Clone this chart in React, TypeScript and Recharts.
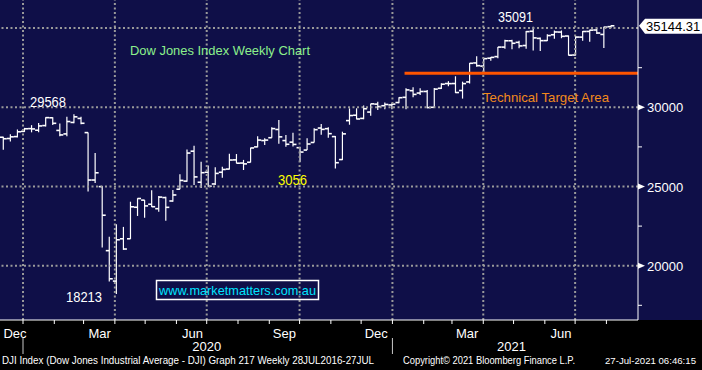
import { ComposedChart, Bar, XAxis, YAxis, ReferenceLine } from 'recharts'

// weekly bars, week ending (Friday)
const weeks = [
  '2019-12-06', '2019-12-13', '2019-12-20', '2019-12-27',
  '2020-01-03', '2020-01-10', '2020-01-17', '2020-01-24', '2020-01-31',
  '2020-02-07', '2020-02-14', '2020-02-21', '2020-02-28',
  '2020-03-06', '2020-03-13', '2020-03-20', '2020-03-27',
  '2020-04-03', '2020-04-10', '2020-04-17', '2020-04-24',
  '2020-05-01', '2020-05-08', '2020-05-15', '2020-05-22', '2020-05-29',
  '2020-06-05', '2020-06-12', '2020-06-19', '2020-06-26',
  '2020-07-03', '2020-07-10', '2020-07-17', '2020-07-24', '2020-07-31',
  '2020-08-07', '2020-08-14', '2020-08-21', '2020-08-28',
  '2020-09-04', '2020-09-11', '2020-09-18', '2020-09-25',
  '2020-10-02', '2020-10-09', '2020-10-16', '2020-10-23', '2020-10-30',
  '2020-11-06', '2020-11-13', '2020-11-20', '2020-11-27',
  '2020-12-04', '2020-12-11', '2020-12-18', '2020-12-25',
  '2021-01-01', '2021-01-08', '2021-01-15', '2021-01-22', '2021-01-29',
  '2021-02-05', '2021-02-12', '2021-02-19', '2021-02-26',
  '2021-03-05', '2021-03-12', '2021-03-19', '2021-03-26',
  '2021-04-02', '2021-04-09', '2021-04-16', '2021-04-23', '2021-04-30',
  '2021-05-07', '2021-05-14', '2021-05-21', '2021-05-28',
  '2021-06-04', '2021-06-11', '2021-06-18', '2021-06-25',
  '2021-07-02', '2021-07-09', '2021-07-16', '2021-07-23', '2021-07-30',
]

const opens = [
  28109, 28030, 28150, 28480, 28654, 28553, 28846, 29338, 28540, 28320, 29045, 29298, 28402,
  25409, 24992, 20950, 19028, 21700, 21700, 23690, 24140, 23880, 23600, 24300, 24085, 24830,
  25340, 27230, 25270, 25900, 25160, 25900, 26100, 26680, 26480, 26530, 27500, 27900, 28080,
  28600, 27900, 27800, 27450, 27300, 27780, 28690, 28650, 28150, 26700, 29160, 29500, 29300,
  29700, 30200, 30100, 30150, 30300, 30630, 31050, 30900, 31000, 30000, 31200, 31500, 31500,
  31060, 31600, 32800, 32600, 33100, 33200, 33800, 34200, 34100, 33900, 34800, 34350, 34210,
  34580, 34750, 34500, 33300, 34430, 34790, 34880, 34600, 35090,
]
const highs = [
  28133, 28300, 28600, 28701, 28873, 29009, 29374, 29373, 28980, 29409, 29568, 29406, 28402,
  27120, 25030, 21830, 22610, 22450, 24040, 24260, 24150, 24770, 24400, 24360, 24780, 25780,
  27340, 27580, 26560, 26320, 26210, 26250, 27070, 27050, 26680, 27450, 28180, 28040, 28740,
  29200, 28250, 28400, 27510, 28040, 28680, 28950, 28740, 28190, 28460, 29934, 29937, 30116,
  30220, 30350, 30300, 30250, 30640, 31200, 31270, 31200, 31100, 31220, 31520, 31650, 31960,
  31620, 32800, 33230, 33090, 33170, 33810, 34260, 34260, 34200, 34811, 35091, 34400, 34610,
  34850, 34850, 34530, 34500, 34810, 34890, 35020, 35080, 35171,
]
const lows = [
  27325, 27836, 28100, 28449, 28419, 28418, 28791, 28890, 28170, 28169, 28994, 28932, 24681,
  25226, 21154, 19000, 18213, 21000, 21690, 23140, 23030, 23700, 23400, 22840, 24040, 24820,
  25300, 25100, 24900, 24980, 25100, 25560, 26080, 26460, 26040, 26520, 27480, 27620, 28080,
  27700, 27510, 27520, 26540, 27300, 27770, 28260, 28080, 26140, 26670, 28900, 29240, 29240,
  29460, 29830, 29870, 29880, 30250, 29880, 30630, 30780, 29940, 29950, 31160, 31330, 30900,
  30550, 31500, 32560, 32200, 32940, 33100, 33700, 33660, 33730, 33700, 33580, 33550, 34180,
  34320, 34360, 33270, 33270, 34200, 34140, 34630, 33741, 34990,
]
const closes = [
  28015, 28135, 28455, 28645, 28634, 28823, 29348, 28990, 28256, 29102, 29398, 28992, 25409,
  25865, 23186, 19174, 21637, 21053, 23719, 24242, 23775, 23724, 24331, 23685, 24465, 25383,
  27111, 25606, 25871, 25016, 25827, 26075, 26672, 26470, 26428, 27433, 27931, 27930, 28654,
  28133, 27666, 27657, 27174, 27683, 28587, 28606, 28336, 26502, 28323, 29480, 29263, 29910,
  30218, 30046, 30179, 30200, 30606, 31098, 30814, 30997, 29983, 31148, 31458, 31494, 30932,
  31496, 32779, 32628, 33073, 33153, 33801, 34200, 34043, 33875, 34778, 34382, 34208, 34529,
  34756, 34480, 33290, 34433, 34786, 34870, 34688, 35061, 35144.31,
]

const quarterStarts = ['2020-01-01', '2020-04-01', '2020-07-01', '2020-10-01', '2021-01-01', '2021-04-01', '2021-07-01']
const monthStarts = [
  '2020-01-01', '2020-02-01', '2020-03-01', '2020-04-01', '2020-05-01', '2020-06-01',
  '2020-07-01', '2020-08-01', '2020-09-01', '2020-10-01', '2020-11-01', '2020-12-01',
  '2021-01-01', '2021-02-01', '2021-03-01', '2021-04-01', '2021-05-01', '2021-06-01',
  '2021-07-01', '2021-08-01',
]
const monthLabels = ['Dec', 'Mar', 'Jun', 'Sep', 'Dec', 'Mar', 'Jun']
const monthLabelDates = ['2019-12-24', '2020-03-17', '2020-06-17', '2020-09-16', '2020-12-16', '2021-03-16', '2021-06-17']
const yearLabels = ['2020', '2021']
const yearLabelDates = ['2020-07-01', '2021-04-29']
const yearBreaks = ['2020-01-01', '2021-01-01']

const gridValues = [20000, 25000, 30000, 35000]
const labelValues = [20000, 25000, 30000]
const minorValues = [17500, 22500, 27500, 32500]
const TARGET = 32150
const TARGET_FROM = '2021-01-13'

const NAVY = '#0f0f48'
const FONT = '"Liberation Sans", Arial, sans-serif'
const W = 702
const H = 370
const PLOT_BOTTOM = 320
const AXIS_X = 638
const X_MIN = -22.8
const X_MAX = 609.3
const Y_MIN = 16572
const Y_MAX = 36774
// Bloomberg draws each weekly bar a few days past its Friday
const BAR_SHIFT = 6

const dayNum = (s: string) => (Date.parse(s) - Date.parse('2020-01-01')) / 86400000

const rows = weeks.map((w, i) => ({
  week: w,
  t: dayNum(w) + BAR_SHIFT,
  open: opens[i],
  high: highs[i],
  low: lows[i],
  close: closes[i],
  range: [lows[i], highs[i]],
}))

const lastClose = closes[closes.length - 1]

type Spec = { t: number; kind: 'month' | 'label' | 'year' | 'break'; text?: string }
const xSpecs: Spec[] = [
  ...monthStarts.map((d) => ({ t: dayNum(d), kind: 'month' as const })),
  ...monthLabelDates.map((d, i) => ({ t: dayNum(d), kind: 'label' as const, text: monthLabels[i] })),
  ...yearLabelDates.map((d, i) => ({ t: dayNum(d), kind: 'year' as const, text: yearLabels[i] })),
  ...yearBreaks.map((d) => ({ t: dayNum(d), kind: 'break' as const })),
]
const xTicks = Array.from(new Set(xSpecs.map((s) => s.t))).sort((a, b) => a - b)

function XTick(props: any) {
  const { x, payload } = props
  const items = xSpecs.filter((s) => s.t === payload.value)
  return (
    <g>
      {items.map((s, i) => {
        if (s.kind === 'month')
          return <line key={i} x1={x} x2={x} y1={PLOT_BOTTOM} y2={PLOT_BOTTOM + 4} stroke="#fff" />
        if (s.kind === 'break')
          return <line key={i} x1={x} x2={x} y1={338} y2={354} stroke="#c8c8c8" />
        return (
          <text key={i} x={x} y={s.kind === 'label' ? 338 : 351} textAnchor="middle"
            fill="#fff" fontSize={13} fontFamily={FONT}>
            {s.text}
          </text>
        )
      })}
    </g>
  )
}

function YTick(props: any) {
  const { y, payload } = props
  const v = payload.value
  if (v === lastClose) {
    return (
      <g>
        <polygon points={`${AXIS_X + 1},${y} ${AXIS_X + 7},${y - 7} ${W},${y - 7} ${W},${y + 8} ${AXIS_X + 7},${y + 8}`}
          fill="#fff" />
        <text x={AXIS_X + 8} y={y + 5} fill="#000" fontSize={13} fontFamily={FONT}>{v.toFixed(2)}</text>
      </g>
    )
  }
  if (labelValues.includes(v)) {
    return (
      <g>
        <polygon points={`${AXIS_X},${y - 3} ${AXIS_X + 7},${y} ${AXIS_X},${y + 3}`} fill="#fff" />
        <text x={AXIS_X + 9} y={y + 5} fill="#fff" fontSize={13} fontFamily={FONT}>{v}</text>
      </g>
    )
  }
  return <line x1={AXIS_X} x2={AXIS_X + 4} y1={y} y2={y} stroke="#fff" />
}

function OhlcBar(props: any) {
  const { x, y, width, height, payload } = props
  if (x == null || y == null || !payload) return null
  const cx = x + width / 2
  const top = Math.min(y, y + height)
  const h = Math.abs(height)
  const span = payload.high - payload.low || 1
  const yo = top + ((payload.high - payload.open) / span) * h
  const yc = top + ((payload.high - payload.close) / span) * h
  return (
    <g stroke="#fff">
      <line x1={cx} x2={cx} y1={top} y2={top + h} strokeWidth={1.2} />
      <line x1={cx - 3.5} x2={cx} y1={yo} y2={yo} strokeWidth={1.6} />
      <line x1={cx} x2={cx + 3.5} y1={yc} y2={yc} strokeWidth={1.6} />
    </g>
  )
}

const dotted = { stroke: '#9a9a9a', strokeWidth: 2, strokeDasharray: '2 2.5' }

export default function App() {
  return (
    <div
      style={{
        position: 'absolute', left: 0, top: 0, width: W, height: H,
        background: `linear-gradient(to bottom, ${NAVY} ${PLOT_BOTTOM}px, #000 ${PLOT_BOTTOM}px)`,
      }}
    >
      <ComposedChart width={W} height={H} data={rows} margin={{ top: 0, right: 0, bottom: 0, left: 0 }}>
        <XAxis type="number" dataKey="t" domain={[X_MIN, X_MAX]} allowDataOverflow
          ticks={xTicks} interval={0} height={H - PLOT_BOTTOM} tick={<XTick />}
          tickLine={false} axisLine={{ stroke: '#fff' }} />
        <YAxis orientation="right" width={W - AXIS_X} domain={[Y_MIN, Y_MAX]} allowDataOverflow
          ticks={[...minorValues, ...labelValues, lastClose]} interval={0} tick={<YTick />}
          tickLine={false} axisLine={{ stroke: '#fff' }} />
        {gridValues.map((v) => (
          <ReferenceLine key={'h' + v} y={v} {...dotted} />
        ))}
        {quarterStarts.map((d) => (
          <ReferenceLine key={'v' + d} x={dayNum(d)} {...dotted} />
        ))}
        <ReferenceLine
          segment={[{ x: dayNum(TARGET_FROM), y: TARGET }, { x: X_MAX, y: TARGET }]}
          stroke="#ff5500" strokeWidth={3} />
        <Bar dataKey="range" barSize={6} shape={<OhlcBar />} isAnimationActive={false} />
      </ComposedChart>
      <svg width={W} height={H} style={{ position: 'absolute', left: 0, top: 0, pointerEvents: 'none' }}
        fontFamily={FONT}>
        <text x={130} y={55} fill="#8cf08c" fontSize={13} textLength={180} lengthAdjust="spacingAndGlyphs">
          Dow Jones Index Weekly Chart
        </text>
        <text x={30} y={107} fill="#fff" fontSize={14} textLength={36} lengthAdjust="spacingAndGlyphs">29568</text>
        <text x={66} y={302} fill="#fff" fontSize={14} textLength={36} lengthAdjust="spacingAndGlyphs">18213</text>
        <text x={278} y={185} fill="#ffff00" fontSize={14} textLength={29} lengthAdjust="spacingAndGlyphs">3056</text>
        <text x={498} y={22} fill="#fff" fontSize={14} textLength={35} lengthAdjust="spacingAndGlyphs">35091</text>
        <text x={483} y={102} fill="#f28a1c" fontSize={13} textLength={126} lengthAdjust="spacingAndGlyphs">
          Technical Target Area
        </text>
        <rect x={156.5} y={280.5} width={162} height={19} fill="none" stroke="#fff" strokeWidth={1.5} />
        <text x={159} y={295} fill="#00e4ff" fontSize={13} textLength={157} lengthAdjust="spacingAndGlyphs">
          www.marketmatters.com.au
        </text>
        <text x={2} y={364} fill="#fff" fontSize={10.5} textLength={372} lengthAdjust="spacingAndGlyphs">
          DJI Index (Dow Jones Industrial Average - DJI) Graph 217  Weekly 28JUL2016-27JUL
        </text>
        <text x={403} y={364} fill="#fff" fontSize={10.5} textLength={172} lengthAdjust="spacingAndGlyphs">
          Copyright© 2021 Bloomberg Finance L.P.
        </text>
        <text x={605} y={364} fill="#fff" fontSize={9.8} textLength={91} lengthAdjust="spacingAndGlyphs">
          27-Jul-2021 06:46:15
        </text>
      </svg>
    </div>
  )
}
